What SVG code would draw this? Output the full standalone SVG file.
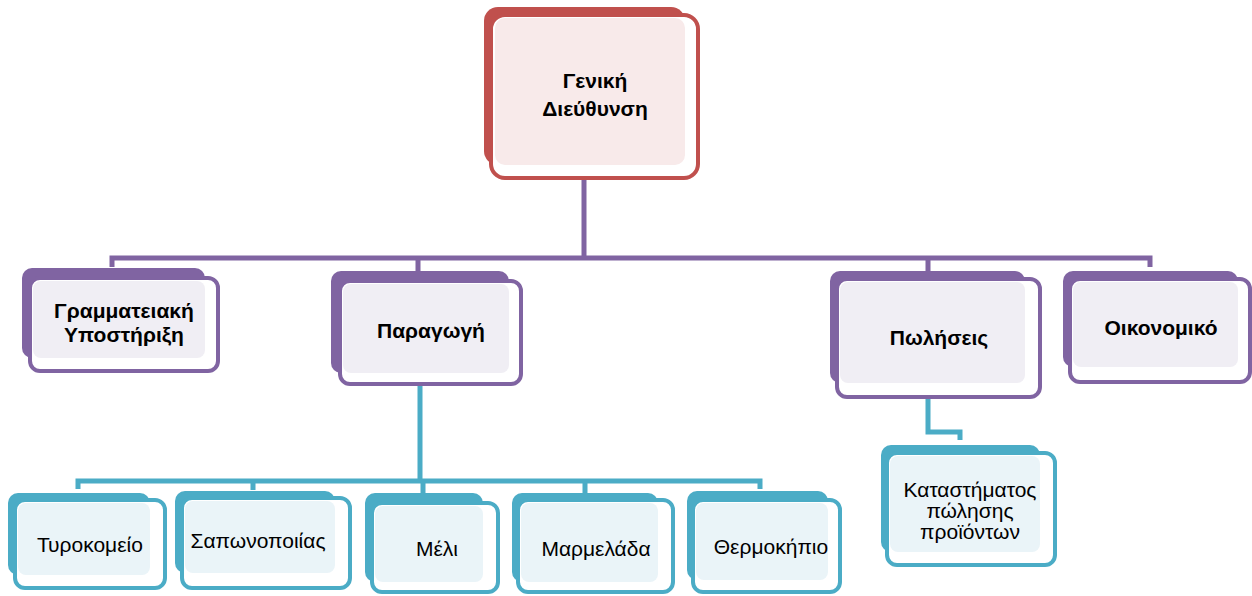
<svg xmlns="http://www.w3.org/2000/svg" width="1252" height="596" viewBox="0 0 1252 596">
<style>
.bg{fill:#ffffff}
.r .b{fill:#c0504d}
.r .f{fill:#ffffff;stroke:#c0504d;stroke-width:4}
.r .i{fill:#f8eaea}
.p .b{fill:#8064a2}
.p .f{fill:#ffffff;stroke:#8064a2;stroke-width:4}
.p .i{fill:#f0eef4}
.t .b{fill:#4bacc6}
.t .f{fill:#ffffff;stroke:#4bacc6;stroke-width:4}
.t .i{fill:#eaf4f8}
text{font-family:"Liberation Sans",Arial,sans-serif;fill:#000;text-anchor:middle}
.bold{font-weight:bold;font-size:21px}
.reg{font-size:21px}
.cp{fill:none;stroke:#8064a2;stroke-width:5}
.ct{fill:none;stroke:#4bacc6;stroke-width:5}
</style>
<rect class="bg" x="0" y="0" width="1252" height="596"/>
<g id="connectors">
<path class="cp" d="M584 176V258M112 267V258H1150V267M418 258V272M928 258V272"/>
<path class="ct" d="M420 384V481M78 489V481H760V489M253 481V490M423 481V493M585 481V493"/>
<path class="ct" d="M928 396V432H960V440"/>
</g>
<g id="n-top" class="r">
<rect class="b" x="484" y="7" width="201" height="158" rx="14"/>
<rect class="f" x="491" y="15" width="207" height="163" rx="14"/>
<rect class="i" x="495" y="18" width="190" height="147" rx="10"/>
<text class="bold" x="595" y="88">Γενική</text>
<text class="bold" x="595" y="116">Διεύθυνση</text>
</g>
<g id="n-gram" class="p">
<rect class="b" x="22" y="268" width="183" height="90" rx="10"/>
<rect class="f" x="30" y="278" width="188" height="93" rx="10"/>
<rect class="i" x="33" y="281" width="172" height="77" rx="8"/>
<text class="bold" x="124" y="318">Γραμματειακή</text>
<text class="bold" x="124" y="342">Υποστήριξη</text>
</g>
<g id="n-parag" class="p">
<rect class="b" x="331" y="271" width="178" height="102" rx="10"/>
<rect class="f" x="340" y="281" width="181" height="103" rx="10"/>
<rect class="i" x="343" y="284" width="166" height="89" rx="8"/>
<text class="bold" x="431" y="338">Παραγωγή</text>
</g>
<g id="n-pol" class="p">
<rect class="b" x="830" y="271" width="195" height="112" rx="10"/>
<rect class="f" x="837" y="279" width="203" height="118" rx="10"/>
<rect class="i" x="840" y="282" width="185" height="101" rx="8"/>
<text class="bold" x="939" y="345">Πωλήσεις</text>
</g>
<g id="n-oik" class="p">
<rect class="b" x="1063" y="271" width="175" height="96" rx="10"/>
<rect class="f" x="1070" y="279" width="180" height="103" rx="10"/>
<rect class="i" x="1073" y="282" width="165" height="85" rx="8"/>
<text class="bold" x="1161" y="335">Οικονομικό</text>
</g>
<g id="n-tyr" class="t">
<rect class="b" x="8" y="493" width="142" height="82" rx="10"/>
<rect class="f" x="15" y="500" width="150" height="88" rx="10"/>
<rect class="i" x="18" y="503" width="132" height="72" rx="8"/>
<text class="reg" x="90" y="552">Τυροκομείο</text>
</g>
<g id="n-sap" class="t">
<rect class="b" x="175" y="491" width="160" height="82" rx="10"/>
<rect class="f" x="182" y="498" width="168" height="90" rx="10"/>
<rect class="i" x="185" y="501" width="150" height="72" rx="8"/>
<text class="reg" x="258" y="548">Σαπωνοποιίας</text>
</g>
<g id="n-meli" class="t">
<rect class="b" x="365" y="493" width="118" height="89" rx="10"/>
<rect class="f" x="372" y="503" width="126" height="89" rx="10"/>
<rect class="i" x="375" y="506" width="108" height="76" rx="8"/>
<text class="reg" x="437" y="556">Μέλι</text>
</g>
<g id="n-marm" class="t">
<rect class="b" x="512" y="493" width="146" height="89" rx="10"/>
<rect class="f" x="518" y="500" width="155" height="92" rx="10"/>
<rect class="i" x="521" y="503" width="137" height="79" rx="8"/>
<text class="reg" x="596" y="556">Μαρμελάδα</text>
</g>
<g id="n-therm" class="t">
<rect class="b" x="687" y="491" width="141" height="89" rx="10"/>
<rect class="f" x="693" y="500" width="147" height="92" rx="10"/>
<rect class="i" x="696" y="503" width="132" height="77" rx="8"/>
<text class="reg" x="771" y="554">Θερμοκήπιο</text>
</g>
<g id="n-kat" class="t">
<rect class="b" x="881" y="445" width="159" height="107" rx="10"/>
<rect class="f" x="887" y="453" width="168" height="112" rx="10"/>
<rect class="i" x="890" y="456" width="150" height="96" rx="8"/>
<text class="reg" x="970" y="497">Καταστήματος</text>
<text class="reg" x="970" y="518">πώλησης</text>
<text class="reg" x="970" y="539">προϊόντων</text>
</g>
</svg>
